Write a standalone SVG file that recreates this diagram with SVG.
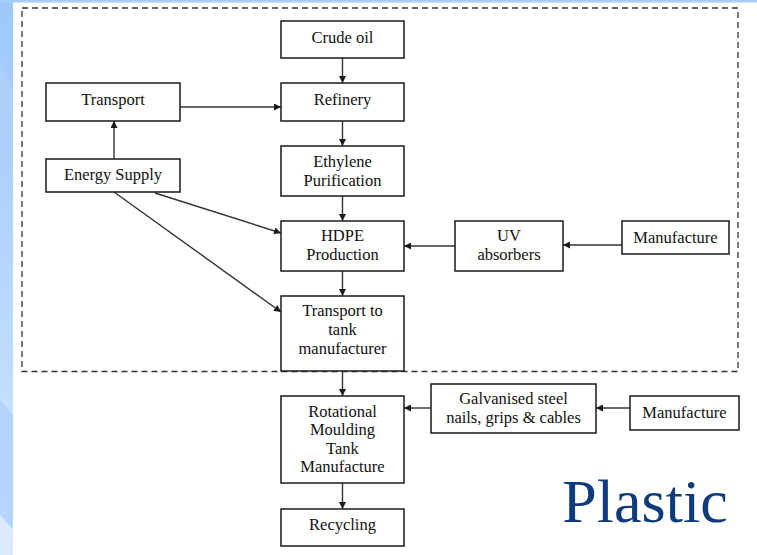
<svg xmlns="http://www.w3.org/2000/svg" width="757" height="555" viewBox="0 0 757 555">
<defs>
<linearGradient id="bg" x1="0" y1="0" x2="0" y2="1">
<stop offset="0" stop-color="#9cc8f8"/>
<stop offset="0.5" stop-color="#b6d7fc"/>
<stop offset="1" stop-color="#d4e6fd"/>
</linearGradient>
<marker id="ah" viewBox="0 0 10 10" refX="10" refY="5" markerWidth="7" markerHeight="7" markerUnits="userSpaceOnUse" orient="auto">
<path d="M0,0 L10,5 L0,10 z" fill="#1a1a1a"/>
</marker>
<style>
.box{fill:#fff;stroke:#1a1a1a;stroke-width:1.5}
.t{font-size:16.5px;fill:#111;text-anchor:middle}
.c{stroke:#333;stroke-width:1.4;fill:none;marker-end:url(#ah)}
</style>
</defs>
<rect width="757" height="555" fill="#fff"/>
<rect x="0" y="0" width="13" height="555" fill="url(#bg)"/>
<rect x="0" y="0" width="757" height="2.5" fill="#a6cdf8"/>
<polygon points="0,60 13,90 13,150 0,130" fill="#aed2fa" opacity="0.7"/>
<polygon points="0,400 13,415 13,530 0,515" fill="#a9cffb" opacity="0.7"/>
<polygon points="0,515 13,530 13,555 0,555" fill="#dbeafe"/>
<rect x="22" y="8" width="716" height="363.5" fill="none" stroke="#333" stroke-width="1.3" stroke-dasharray="6,4"/>

<g id="connectors">
<line class="c" x1="342.5" y1="58" x2="342.5" y2="83"/>
<line class="c" x1="342.5" y1="121" x2="342.5" y2="146"/>
<line class="c" x1="342.5" y1="196" x2="342.5" y2="221"/>
<line class="c" x1="342.5" y1="271" x2="342.5" y2="296"/>
<line class="c" x1="342.5" y1="371" x2="342.5" y2="396"/>
<line class="c" x1="342.5" y1="483" x2="342.5" y2="509"/>
<line class="c" x1="180" y1="107" x2="281" y2="107"/>
<line class="c" x1="114" y1="159" x2="114" y2="121"/>
<line class="c" x1="155" y1="193" x2="281" y2="233"/>
<line class="c" x1="114" y1="192" x2="281" y2="312"/>
<line class="c" x1="455" y1="246" x2="404" y2="246"/>
<line class="c" x1="622" y1="245" x2="563" y2="245"/>
<line class="c" x1="431" y1="408" x2="404" y2="408"/>
<line class="c" x1="630" y1="408" x2="596" y2="408"/>
</g>

<g id="crude-oil"><rect class="box" x="281" y="21" width="123" height="37"/><text class="t" font-family="'Liberation Serif','Times New Roman',serif" x="342.5" y="43">Crude oil</text></g>
<g id="refinery"><rect class="box" x="281" y="83" width="123" height="38"/><text class="t" font-family="'Liberation Serif','Times New Roman',serif" x="342.5" y="105">Refinery</text></g>
<g id="transport"><rect class="box" x="46" y="83" width="134" height="38"/><text class="t" font-family="'Liberation Serif','Times New Roman',serif" x="113" y="105">Transport</text></g>
<g id="energy-supply"><rect class="box" x="46" y="159" width="134" height="33"/><text class="t" font-family="'Liberation Serif','Times New Roman',serif" x="113" y="180">Energy Supply</text></g>
<g id="ethylene"><rect class="box" x="281" y="146" width="123" height="50"/><text class="t" font-family="'Liberation Serif','Times New Roman',serif" x="342.5" y="167">Ethylene</text><text class="t" font-family="'Liberation Serif','Times New Roman',serif" x="342.5" y="185.5">Purification</text></g>
<g id="hdpe"><rect class="box" x="281" y="221" width="123" height="50"/><text class="t" font-family="'Liberation Serif','Times New Roman',serif" x="342.5" y="241">HDPE</text><text class="t" font-family="'Liberation Serif','Times New Roman',serif" x="342.5" y="260">Production</text></g>
<g id="uv"><rect class="box" x="455" y="221" width="108" height="50"/><text class="t" font-family="'Liberation Serif','Times New Roman',serif" x="509" y="241">UV</text><text class="t" font-family="'Liberation Serif','Times New Roman',serif" x="509" y="260">absorbers</text></g>
<g id="manufacture-1"><rect class="box" x="622" y="221" width="107" height="33"/><text class="t" font-family="'Liberation Serif','Times New Roman',serif" x="675.5" y="242.5">Manufacture</text></g>
<g id="transport-tank"><rect class="box" x="281" y="296" width="123" height="75"/><text class="t" font-family="'Liberation Serif','Times New Roman',serif" x="342.5" y="315.5">Transport to</text><text class="t" font-family="'Liberation Serif','Times New Roman',serif" x="342.5" y="335">tank</text><text class="t" font-family="'Liberation Serif','Times New Roman',serif" x="342.5" y="353.5">manufacturer</text></g>
<g id="rotational"><rect class="box" x="281" y="396" width="123" height="87"/><text class="t" font-family="'Liberation Serif','Times New Roman',serif" x="342.5" y="416.5">Rotational</text><text class="t" font-family="'Liberation Serif','Times New Roman',serif" x="342.5" y="435">Moulding</text><text class="t" font-family="'Liberation Serif','Times New Roman',serif" x="342.5" y="453.5">Tank</text><text class="t" font-family="'Liberation Serif','Times New Roman',serif" x="342.5" y="472">Manufacture</text></g>
<g id="galvanised"><rect class="box" x="431" y="384" width="165" height="49"/><text class="t" font-family="'Liberation Serif','Times New Roman',serif" x="513.5" y="403.5">Galvanised steel</text><text class="t" font-family="'Liberation Serif','Times New Roman',serif" x="513.5" y="423">nails, grips &amp; cables</text></g>
<g id="manufacture-2"><rect class="box" x="630" y="396" width="109" height="34"/><text class="t" font-family="'Liberation Serif','Times New Roman',serif" x="684.5" y="418">Manufacture</text></g>
<g id="recycling"><rect class="box" x="281" y="509" width="123" height="37"/><text class="t" font-family="'Liberation Serif','Times New Roman',serif" x="342.5" y="529.5">Recycling</text></g>

<text x="645" y="522" font-family="'Liberation Serif','Times New Roman',serif" font-size="62" fill="#0d3b7c" text-anchor="middle">Plastic</text>
</svg>
